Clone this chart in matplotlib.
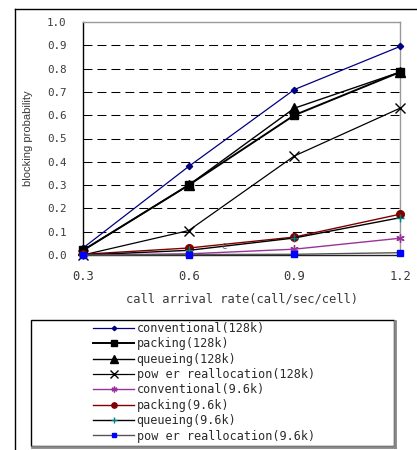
import matplotlib.pyplot as plt
from matplotlib.patches import Rectangle
from matplotlib.lines import Line2D

rate = [0.3, 0.6, 0.9, 1.2]
labels = ['conventional(128k)', 'packing(128k)', 'queueing(128k)',
          'pow er reallocation(128k)', 'conventional(9.6k)', 'packing(9.6k)',
          'queueing(9.6k)', 'pow er reallocation(9.6k)']
conv_128 = [0.03, 0.38, 0.71, 0.895]
pack_128 = [0.02, 0.30, 0.60, 0.785]
queue_128 = [0.02, 0.30, 0.63, 0.785]
power_128 = [0.0, 0.105, 0.425, 0.63]
conv_96 = [0.0, 0.005, 0.025, 0.072]
pack_96 = [0.003, 0.03, 0.077, 0.175]
queue_96 = [0.0, 0.02, 0.073, 0.16]
power_96 = [0.0, 0.002, 0.003, 0.01]
yticks = [0.0, 0.1, 0.2, 0.3, 0.4, 0.5, 0.6, 0.7, 0.8, 0.9, 1.0]

W, H = 417, 450
fig = plt.figure(figsize=(W / 100, H / 100), dpi=100)
ax = fig.add_axes([83 / W, 1 - 255 / H, 317 / W, 233 / H])

mono = 'DejaVu Sans Mono'

# line, marker colour, marker, size, width
styles = [
    ('#000080', '#000080', 'D', 3.2, 0.9),
    ('#000000', '#000000', 's', 6, 1.4),
    ('#000000', '#000000', '^', 7.5, 1.0),
    ('#000000', '#000000', 'x', 7.5, 0.9),
    ('#993399', '#993399', (6, 2, 0), 6, 1.0),
    ('#800000', '#800000', 'o', 5.5, 1.0),
    ('#000000', '#008080', '+', 6, 1.0),
    ('#555555', '#0000ff', 's', 4, 1.0),
]
series = [conv_128, pack_128, queue_128, power_128,
          conv_96, pack_96, queue_96, power_96]

handles = []
for vals, lab, (lc, mc, mk, ms, lw) in zip(series, labels, styles):
    h, = ax.plot(rate, vals, color=lc, lw=lw, marker=mk, ms=ms,
                 mfc=mc, mec=mc, mew=1.0, clip_on=False, zorder=3, label=lab)
    handles.append(h)

ax.text(0.7, 0.04, 'c', color='#666666', fontsize=7, ha='center', va='center')

ax.set_xlim(0.3, 1.2)
ax.set_ylim(0, 1.0)
ax.set_xticks(rate)
ax.set_xticklabels(['0.3', '0.6', '0.9', '1.2'], family=mono, fontsize=8.7, color='#3a3a3a')
ax.set_yticks(yticks)
ax.set_yticklabels(['%.1f' % v for v in yticks], family=mono, fontsize=7.8, color='#3a3a3a')
ax.tick_params(axis='x', length=0, pad=11)
ax.tick_params(axis='y', length=0, pad=12)

for v in yticks[1:-1]:
    ax.axhline(v, color='black', lw=0.75, dashes=(8.6, 4.8), zorder=1)

ax.spines['left'].set_color('black')
ax.spines['bottom'].set_color('#222222')
ax.spines['top'].set_color('#999999')
ax.spines['right'].set_color('#999999')
for s in ax.spines.values():
    s.set_linewidth(1.0)

ax.set_xlabel('call arrival rate(call/sec/cell)', family=mono, fontsize=8.7,
              color='#3a3a3a', labelpad=7)
ax.set_ylabel('blocking probability', family='Liberation Sans', fontsize=8,
              color='#3a3a3a', labelpad=10)

# outer frame
fig.add_artist(Line2D([15 / W, 15 / W], [-0.1, 1 - 9 / H], color='black', lw=1.0))
fig.add_artist(Line2D([15 / W, 1.1], [1 - 9 / H, 1 - 9 / H], color='black', lw=1.0))

# legend box with shadow
fig.add_artist(Line2D([32 / W, 395 / W], [1 - 447 / H, 1 - 447 / H], color='#888888', lw=2.0))
fig.add_artist(Line2D([395 / W, 395 / W], [1 - 447 / H, 1 - 321 / H], color='#888888', lw=2.0))
fig.add_artist(Rectangle((31 / W, 1 - 446 / H), 363 / W, 126 / H, transform=fig.transFigure,
                         fill=False, edgecolor='black', lw=1.0))

fig.legend(handles=handles, loc='upper left', bbox_to_anchor=(93 / W, 1 - 322 / H),
           frameon=False, prop={'family': mono, 'size': 8.5}, labelcolor='#2a2a2a',
           handlelength=3.5, handletextpad=0.2, labelspacing=0.2, borderpad=0,
           borderaxespad=0, markerscale=0.7)

fig.savefig('out.png', dpi=100)
